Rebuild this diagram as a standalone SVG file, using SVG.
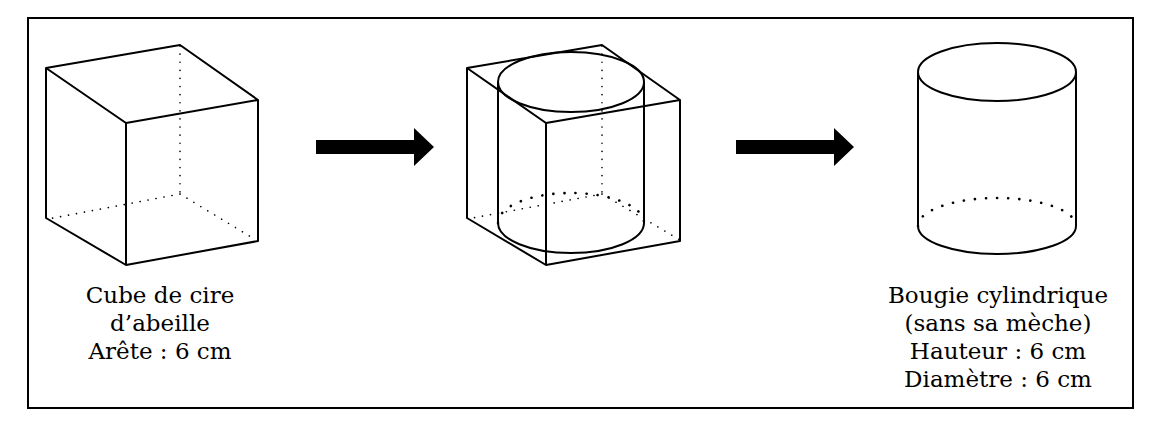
<svg xmlns="http://www.w3.org/2000/svg" width="1152" height="438" viewBox="0 0 1152 438">
<style>
.e{fill:none;stroke:#000;stroke-width:2;stroke-linejoin:round}
.h{fill:none;stroke:#000;stroke-width:1.6;stroke-dasharray:0.1 8;stroke-linecap:round}
.hb{fill:none;stroke:#000;stroke-width:2.6;stroke-dasharray:0.1 11;stroke-linecap:round}
.t{font-family:"DejaVu Serif","Liberation Serif",serif;font-size:23px;text-anchor:middle;fill:#000}
</style>
<rect x="28" y="18" width="1105" height="390" fill="#fff" stroke="#000" stroke-width="2"/>
<g id="cube">
<path class="h" d="M180 46V194M180 194L48 219M180 194L256 240"/>
<path class="e" d="M46 68L180 45L258 100L126 123ZM46 68V218L126 265V123M126 265L258 241V100"/>
</g>
<g id="cube-cylinder">
<path class="h" d="M602 46V194M602 194L467 219M602 194L680 240"/>
<path class="hb" d="M498 223A73 30 0 0 1 644 223"/>
<path class="e" d="M467 68L602 45L680 100L546 123ZM467 68V218L546 265V123M546 265L680 241V100"/>
<ellipse class="e" cx="571" cy="82" rx="73" ry="30"/>
<path class="e" d="M498 82V223M644 82V223"/>
<path class="e" stroke-width="3" d="M498 223A73 30 0 0 0 644 223"/>
</g>
<g id="cylinder">
<ellipse class="e" cx="997" cy="72" rx="79" ry="29"/>
<path class="e" d="M918 72V226M1076 72V226"/>
<path class="hb" d="M918 226A79 28 0 0 1 1076 226"/>
<path class="e" stroke-width="3" d="M918 226A79 28 0 0 0 1076 226"/>
</g>
<g id="connectors">
<path d="M316 140H414V128L434 147L414 166V154H316Z" fill="#000"/>
<path d="M736 140H834V128L854 147L834 166V154H736Z" fill="#000"/>
</g>
<g id="labels">
<text class="t" x="160" y="303">Cube de cire</text>
<text class="t" x="160" y="331">d’abeille</text>
<text class="t" x="160" y="359">Arête : 6 cm</text>
<text class="t" x="998" y="303">Bougie cylindrique</text>
<text class="t" x="998" y="331">(sans sa mèche)</text>
<text class="t" x="998" y="359">Hauteur : 6 cm</text>
<text class="t" x="998" y="387">Diamètre : 6 cm</text>
</g>
</svg>
